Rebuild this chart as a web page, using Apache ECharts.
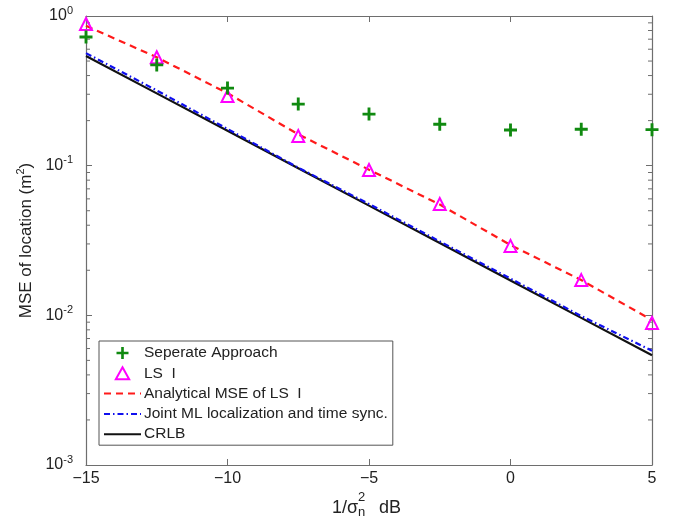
<!DOCTYPE html>
<html>
<head>
<meta charset="utf-8">
<script src="https://cdn.jsdelivr.net/npm/echarts@6/dist/echarts.min.js"></script>
<style>html,body{margin:0;padding:0;background:#fff}#c{width:677px;height:525px}</style>
</head>
<body>
<div id="c"></div>
<script>
const xValues = [-15, -12.5, -10, -7.5, -5, -2.5, 0, 2.5, 5];
const separateApproach = [0.724, 0.471, 0.330, 0.258, 0.221, 0.189, 0.173, 0.175, 0.174];
const lsI = [0.885, 0.53, 0.292, 0.158, 0.0936, 0.0555, 0.0291, 0.0172, 0.0089];
const analyticalLsI = [0.86, 0.53, 0.305, 0.162, 0.094, 0.055, 0.0295, 0.0172, 0.0093];
const jointML = [0.565, 0.318, 0.176, 0.097, 0.0555, 0.0312, 0.0176, 0.0099, 0.0058];
const crlb = [0.541, 0.304, 0.171, 0.0962, 0.0541, 0.0304, 0.0171, 0.00962, 0.00541];
const minorTickValues = [];
[0.001, 0.01, 0.1].forEach(d => { for (let k = 2; k <= 9; k++) minorTickValues.push(+(d * k).toPrecision(3)); });
const xMin = -15, xMax = 5, xStep = 5;
const yMin = 0.001, yMax = 1;

const pair = arr => xValues.map((x, i) => [x, arr[i]]);
const FONT = '"Liberation Sans", Arial, Helvetica, sans-serif';
const AX = '#6e6e6e';

const chart = echarts.init(document.getElementById('c'), null, {renderer: 'canvas'});
const plusPath = 'path://M3.9,0H6.1V3.9H10V6.1H6.1V10H3.9V6.1H0V3.9H3.9Z';
const triPath = 'path://M5,0L10,9L0,9Z';
const noSymbol = {color: 'rgba(0,0,0,0)', borderColor: 'rgba(0,0,0,0)', borderWidth: 0, opacity: 0};

const option = {
  animation: false,
  backgroundColor: '#fff',
  textStyle: {fontFamily: FONT},
  grid: {left: 86, right: 25, top: 16, bottom: 60, containLabel: false},
  xAxis: [{
    type: 'value', min: xMin, max: xMax, interval: xStep, position: 'bottom',
    axisLine: {onZero: false, lineStyle: {color: AX, width: 1.2}},
    axisTick: {inside: true, length: 6, lineStyle: {color: AX}},
    splitLine: {show: false},
    axisLabel: {color: '#222', fontSize: 16, fontFamily: FONT, margin: 6,
      formatter: v => (v < 0 ? '\u2212' + Math.abs(v) : '' + v)}
  }, {
    type: 'value', min: xMin, max: xMax, interval: xStep, position: 'top',
    axisLine: {onZero: false, lineStyle: {color: AX, width: 1.2}},
    axisTick: {inside: true, length: 6, lineStyle: {color: AX}},
    splitLine: {show: false}, axisLabel: {show: false}
  }],
  yAxis: [{
    type: 'log', logBase: 10, min: yMin, max: yMax, position: 'left',
    axisLine: {onZero: false, lineStyle: {color: AX, width: 1.2}},
    axisTick: {inside: true, length: 6, lineStyle: {color: AX}},
    splitLine: {show: false},
    axisLabel: {color: '#222', fontFamily: FONT, margin: 13,
      formatter: v => '{b|10}{s|' + Math.round(Math.log10(v)) + '}',
      rich: {b: {fontSize: 16, fontFamily: FONT, color: '#222'},
             s: {fontSize: 11, fontFamily: FONT, color: '#222', padding: [0, 0, 11, 0]}}},
    name: 'MSE of location (m{s|2})', nameLocation: 'middle', nameGap: 47, nameRotate: 90,
    nameTextStyle: {fontSize: 17, color: '#222', fontFamily: FONT,
      rich: {s: {fontSize: 11, color: '#222', fontFamily: FONT, padding: [0, 0, 10, 0]}}}
  }, {
    type: 'log', logBase: 10, min: yMin, max: yMax, position: 'right',
    axisLine: {onZero: false, lineStyle: {color: AX, width: 1.2}},
    axisTick: {inside: true, length: 6, lineStyle: {color: AX}},
    splitLine: {show: false}, axisLabel: {show: false}
  }],
  legend: {
    orient: 'vertical', left: 99, top: 341,
    backgroundColor: '#fff', borderColor: '#555', borderWidth: 1,
    padding: [4, 5, 3, 4], itemWidth: 37, itemHeight: 12, itemGap: 4.3,
    textStyle: {fontSize: 15.5, lineHeight: 16, color: '#222', fontFamily: FONT, padding: [0, 0, 0, -2]},
    data: [
      {name: 'Seperate Approach'},
      {name: 'LS  I', icon: triPath},
      {name: 'Analytical MSE of LS  I', itemStyle: noSymbol},
      {name: 'Joint ML localization and time sync.', itemStyle: noSymbol},
      {name: 'CRLB', itemStyle: noSymbol}
    ]
  },
  graphic: [
    {type: 'text', left: 332, top: 499, style: {text: '1/\u03c3', fontSize: 18, fontFamily: FONT, fill: '#222'}},
    {type: 'text', left: 358, top: 491, style: {text: '2', fontSize: 13, fontFamily: FONT, fill: '#222'}},
    {type: 'text', left: 358, top: 506, style: {text: 'n', fontSize: 13, fontFamily: FONT, fill: '#222'}},
    {type: 'text', left: 379, top: 499, style: {text: 'dB', fontSize: 18, fontFamily: FONT, fill: '#222'}}
  ],
  series: [
    {
      type: 'custom', name: 'minorTicks', silent: true, clip: false, legendHoverLink: false,
      data: minorTickValues.map(v => [v]),
      renderItem: (params, api) => {
        const v = api.value(0);
        const l = api.coord([xMin, v]);
        const r = api.coord([xMax, v]);
        return {type: 'group', children: [
          {type: 'line', shape: {x1: l[0], y1: l[1], x2: l[0] + 4, y2: l[1]}, style: {stroke: AX, lineWidth: 1}},
          {type: 'line', shape: {x1: r[0], y1: r[1], x2: r[0] - 4, y2: r[1]}, style: {stroke: AX, lineWidth: 1}}
        ]};
      },
      encode: {y: 0}
    },
    {
      name: 'Seperate Approach', type: 'scatter', data: pair(separateApproach), clip: false,
      symbol: plusPath, symbolSize: 13, itemStyle: {color: '#108a10', opacity: 1}, z: 5
    },
    {
      name: 'LS  I', type: 'scatter', data: pair(lsI), clip: false,
      symbol: 'triangle', symbolSize: 12,
      itemStyle: {color: 'rgba(255,255,255,0)', borderColor: '#ff00ff', borderWidth: 2, opacity: 1}, z: 4
    },
    {
      name: 'Analytical MSE of LS  I', type: 'line', data: pair(analyticalLsI), symbol: 'none',
      lineStyle: {color: '#ff1a1a', width: 2.2, type: [7, 5]}, itemStyle: {color: '#ff1a1a'}, z: 3
    },
    {
      name: 'Joint ML localization and time sync.', type: 'line', data: pair(jointML), symbol: 'none',
      lineStyle: {color: '#1010ee', width: 2.2, type: [6, 3, 1.5, 3]}, itemStyle: {color: '#1010ee'}, z: 3
    },
    {
      name: 'CRLB', type: 'line', data: pair(crlb), symbol: 'none',
      lineStyle: {color: '#111', width: 2.2}, itemStyle: {color: '#111'}, z: 2
    }
  ]
};
chart.setOption(option);
</script>
</body>
</html>
